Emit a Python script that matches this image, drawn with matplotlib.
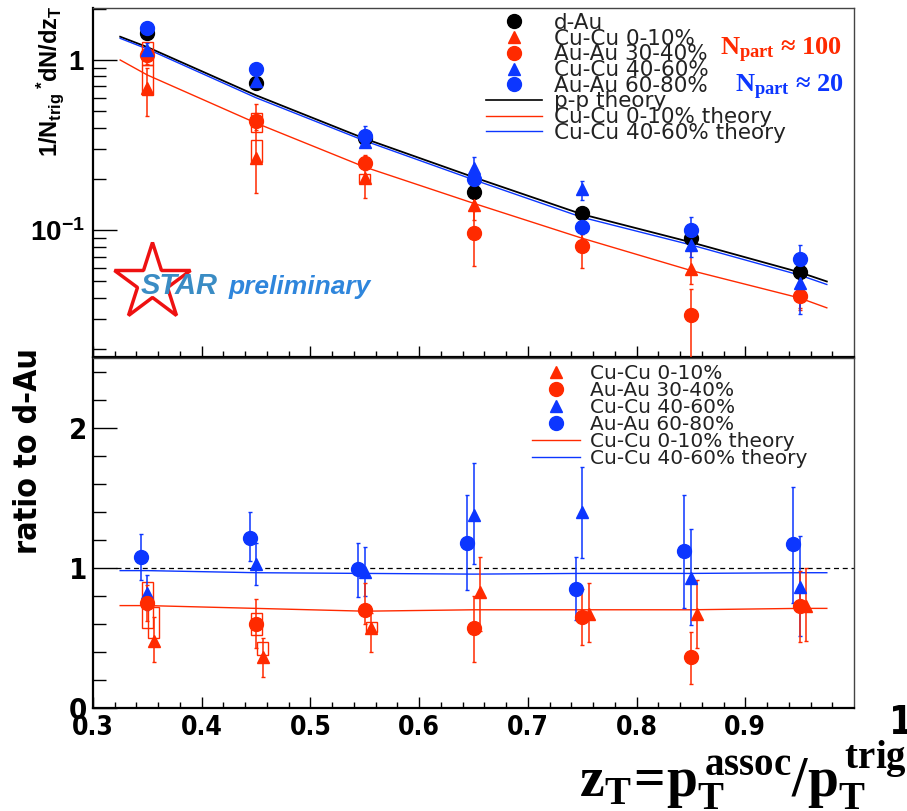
import numpy as np
import matplotlib
matplotlib.use('Agg')
import matplotlib.pyplot as plt
from matplotlib import font_manager
from matplotlib.lines import Line2D
from matplotlib.patches import Rectangle
from matplotlib.ticker import FixedLocator, FixedFormatter, NullFormatter

# pick a condensed sans for tick labels if one is installed
fl = font_manager.fontManager.ttflist
narrow, narrow_stretch = 'Liberation Sans', 'normal'
for f in fl:
    if f.name == 'Liberation Sans Narrow':
        narrow, narrow_stretch = 'Liberation Sans Narrow', 'normal'
        break
else:
    for f in fl:
        if f.name == 'DejaVu Sans' and f.stretch == 'condensed':
            narrow, narrow_stretch = 'DejaVu Sans', 'condensed'
            break

plt.rcParams['font.family'] = ['Liberation Sans', 'DejaVu Sans']
plt.rcParams['mathtext.fontset'] = 'custom'
plt.rcParams['mathtext.sf'] = 'Liberation Sans:bold'
plt.rcParams['mathtext.bf'] = 'Liberation Serif:bold'
plt.rcParams['mathtext.rm'] = 'Liberation Serif'

# ---- data ----
zt = np.array([0.35, 0.45, 0.55, 0.65, 0.75, 0.85, 0.95])

# top panel: 1/Ntrig dN/dzT
dau = np.array([1.44, 0.73, 0.35, 0.167, 0.126, 0.090, 0.057])
dau_lo = np.array([1.36, 0.68, 0.33, 0.155, 0.116, 0.083, 0.052])
dau_hi = np.array([1.52, 0.78, 0.37, 0.180, 0.136, 0.097, 0.062])

cucu_c = np.array([0.685, 0.265, 0.202, 0.14, 0.084, 0.059, 0.042])
cucu_c_lo = np.array([0.47, 0.165, 0.155, 0.115, 0.074, 0.048, 0.035])
cucu_c_hi = np.array([0.90, 0.55, 0.27, 0.17, 0.095, 0.075, 0.050])

auau_m = np.array([1.07, 0.438, 0.248, 0.096, 0.081, 0.0316, 0.041])
auau_m_lo = np.array([0.95, 0.39, 0.225, 0.062, 0.060, 0.010, 0.034])
auau_m_hi = np.array([1.20, 0.49, 0.275, 0.130, 0.100, 0.045, 0.050])

cucu_p = np.array([1.15, 0.75, 0.33, 0.232, 0.174, 0.082, 0.049])
cucu_p_lo = np.array([1.05, 0.70, 0.31, 0.200, 0.150, 0.070, 0.032])
cucu_p_hi = np.array([1.25, 0.80, 0.35, 0.270, 0.194, 0.095, 0.060])

auau_p = np.array([1.54, 0.885, 0.357, 0.20, 0.104, 0.100, 0.068])
auau_p_lo = np.array([1.44, 0.83, 0.33, 0.18, 0.095, 0.085, 0.058])
auau_p_hi = np.array([1.64, 0.94, 0.41, 0.22, 0.115, 0.120, 0.082])

# systematic boxes (red), top panel
sys_auau_lo = np.array([0.93, 0.38, np.nan, np.nan, np.nan, np.nan, np.nan])
sys_auau_hi = np.array([1.28, 0.49, np.nan, np.nan, np.nan, np.nan, np.nan])
sys_cucu_lo = np.array([0.62, 0.25, 0.19, np.nan, np.nan, np.nan, np.nan])
sys_cucu_hi = np.array([0.93, 0.34, 0.215, np.nan, np.nan, np.nan, np.nan])

# theory curves
th_z = np.array([0.325, 0.35, 0.45, 0.55, 0.65, 0.75, 0.85, 0.95, 0.975])
th_pp = np.array([1.37, 1.19, 0.62, 0.345, 0.205, 0.124, 0.085, 0.0566, 0.050])
th_cucu_c = np.array([1.0, 0.816, 0.426, 0.235, 0.144, 0.0897, 0.058, 0.040, 0.035])
th_cucu_p = np.array([1.34, 1.16, 0.60, 0.335, 0.198, 0.119, 0.082, 0.0545, 0.048])

# bottom panel: ratio to d-Au
r_cucu_c = np.array([0.48, 0.36, 0.57, 0.83, 0.67, 0.67, 0.73])
r_cucu_c_lo = np.array([0.33, 0.22, 0.40, 0.55, 0.47, 0.43, 0.48])
r_cucu_c_hi = np.array([0.65, 0.50, 0.68, 1.08, 0.89, 0.91, 1.00])

r_auau_m = np.array([0.75, 0.60, 0.70, 0.57, 0.65, 0.36, 0.73])
r_auau_m_lo = np.array([0.62, 0.43, 0.60, 0.33, 0.45, 0.17, 0.47])
r_auau_m_hi = np.array([0.88, 0.78, 0.89, 0.80, 0.85, 0.54, 0.98])

r_cucu_p = np.array([0.82, 1.03, 0.97, 1.38, 1.40, 0.93, 0.86])
r_cucu_p_lo = np.array([0.70, 0.88, 0.80, 1.03, 1.07, 0.59, 0.51])
r_cucu_p_hi = np.array([0.95, 1.18, 1.15, 1.75, 1.72, 1.28, 1.23])

r_auau_p = np.array([1.08, 1.21, 0.99, 1.18, 0.85, 1.12, 1.17])
r_auau_p_lo = np.array([0.91, 1.05, 0.79, 0.84, 0.63, 0.71, 0.75])
r_auau_p_hi = np.array([1.24, 1.40, 1.18, 1.52, 1.08, 1.52, 1.58])

r_sys_auau_lo = np.array([0.57, 0.52, np.nan, np.nan, np.nan, np.nan, np.nan])
r_sys_auau_hi = np.array([0.90, 0.68, np.nan, np.nan, np.nan, np.nan, np.nan])
r_sys_cucu_lo = np.array([0.50, 0.38, 0.54, np.nan, np.nan, np.nan, np.nan])
r_sys_cucu_hi = np.array([0.72, 0.47, 0.61, np.nan, np.nan, np.nan, np.nan])

th_r_cucu_c = np.array([0.73, 0.73, 0.71, 0.69, 0.70, 0.70, 0.70, 0.71, 0.71])
th_r_cucu_p = np.array([0.98, 0.98, 0.965, 0.96, 0.955, 0.96, 0.96, 0.965, 0.965])

RED = '#ff2a00'
BLUE = '#0c36ff'

W, H = 907, 811
fig = plt.figure(figsize=(W / 100, H / 100), dpi=100)
ax1 = fig.add_axes([93 / W, 1 - 357 / H, 761 / W, 349 / H])
ax2 = fig.add_axes([93 / W, 1 - 707.7 / H, 761 / W, 349.7 / H])


def points(ax, x, y, lo, hi, color, marker, ms):
    ax.errorbar(x, y, yerr=[y - lo, hi - y], fmt=marker, color=color, ms=ms,
                elinewidth=1.1, capsize=1.5, capthick=1, zorder=3)


def boxes(ax, x, lo, hi):
    for xi, l, h in zip(x, lo, hi):
        if np.isnan(l):
            continue
        ax.add_patch(Rectangle((xi - 0.005, l), 0.01, h - l, fill=False,
                               ec=RED, lw=1.0, zorder=2))


# ---- top panel ----
ax1.set_yscale('log')
ax1.plot(th_z, th_pp, color='black', lw=1.3, zorder=2)
ax1.plot(th_z, th_cucu_p, color=BLUE, lw=1.0, zorder=2)
ax1.plot(th_z, th_cucu_c, color=RED, lw=1.0, zorder=2)
boxes(ax1, zt, sys_auau_lo, sys_auau_hi)
boxes(ax1, zt, sys_cucu_lo, sys_cucu_hi)
points(ax1, zt, dau, dau_lo, dau_hi, 'black', 'o', 10)
points(ax1, zt, cucu_c, cucu_c_lo, cucu_c_hi, RED, '^', 9)
points(ax1, zt, auau_m, auau_m_lo, auau_m_hi, RED, 'o', 10)
points(ax1, zt, cucu_p, cucu_p_lo, cucu_p_hi, BLUE, '^', 9)
points(ax1, zt, auau_p, auau_p_lo, auau_p_hi, BLUE, 'o', 10)
ax1.set_xlim(0.3, 1.0)
ax1.set_ylim(0.018, 2.02)

# ---- bottom panel ----
ax2.axhline(1.0, xmin=0.03, xmax=1.0, color='black', lw=0.9, ls=(0, (4, 3)))
ax2.plot(th_z, th_r_cucu_c, color=RED, lw=1.0, zorder=2)
ax2.plot(th_z, th_r_cucu_p, color=BLUE, lw=1.0, zorder=2)
boxes(ax2, zt, r_sys_auau_lo, r_sys_auau_hi)
boxes(ax2, zt + 0.006, r_sys_cucu_lo, r_sys_cucu_hi)
points(ax2, zt - 0.006, r_auau_p, r_auau_p_lo, r_auau_p_hi, BLUE, 'o', 10)
points(ax2, zt, r_cucu_p, r_cucu_p_lo, r_cucu_p_hi, BLUE, '^', 9)
points(ax2, zt, r_auau_m, r_auau_m_lo, r_auau_m_hi, RED, 'o', 10)
points(ax2, zt + 0.006, r_cucu_c, r_cucu_c_lo, r_cucu_c_hi, RED, '^', 9)
ax2.set_xlim(0.3, 1.0)
ax2.set_ylim(0, 2.5)

# ---- axes styling ----
for ax in (ax1, ax2):
    for s in ('left', 'bottom'):
        ax.spines[s].set_linewidth(1.6)
    for s in ('top', 'right'):
        ax.spines[s].set_linewidth(1.0)
        ax.spines[s].set_color('#444444')
    ax.xaxis.set_major_locator(FixedLocator(np.arange(0.3, 0.95, 0.1)))
    ax.xaxis.set_minor_locator(FixedLocator(np.arange(0.32, 0.99, 0.02)))
    ax.tick_params(axis='x', which='major', direction='in', length=8, width=1, top=False)
    ax.tick_params(axis='x', which='minor', direction='in', length=4.5, width=1, top=False)
    ax.tick_params(axis='y', which='major', direction='in', length=17, width=1, right=False)
    ax.tick_params(axis='y', which='minor', direction='in', length=9, width=1, right=False)

ax1.xaxis.set_major_formatter(NullFormatter())
ax1.yaxis.set_major_locator(FixedLocator([0.1, 1.0]))
ax1.yaxis.set_major_formatter(FixedFormatter([r'$\mathsf{10^{-1}}$', r'$\mathsf{1}$']))
ax1.yaxis.set_minor_locator(FixedLocator([0.02, 0.03, 0.04, 0.05, 0.06, 0.07, 0.08, 0.09,
                                          0.2, 0.3, 0.4, 0.5, 0.6, 0.7, 0.8, 0.9, 2.0]))
ax1.yaxis.set_minor_formatter(NullFormatter())
ax1.tick_params(axis='y', which='major', labelsize=20, pad=6)

ax2.yaxis.set_major_locator(FixedLocator([0, 1, 2]))
ax2.yaxis.set_minor_locator(FixedLocator(np.arange(0.2, 2.45, 0.2)))
ax2.set_yticklabels(['0', '1', '2'], fontsize=21, fontweight='bold', family=narrow,
                    fontstretch=narrow_stretch)
ax2.set_xticklabels(['0.3', '0.4', '0.5', '0.6', '0.7', '0.8', '0.9'],
                    fontsize=19, fontweight='bold', family=narrow, fontstretch=narrow_stretch)
ax2.tick_params(axis='x', which='major', pad=5)
ax2.tick_params(axis='y', which='major', pad=4)

ax1.set_ylabel(r'$\mathsf{1/N_{trig}\,^{*}dN/dz_{T}}$', fontsize=17)
ax1.yaxis.set_label_coords(-0.036, 0.79)
ax2.set_ylabel('ratio to d-Au', fontsize=23, fontweight='bold', family=narrow,
               fontstretch=narrow_stretch)
ax2.yaxis.set_label_coords(-0.065, 0.735)

fig.text(889 / W, 1 - 723 / H, '1', fontsize=28, fontweight='bold', family=narrow,
         fontstretch=narrow_stretch, ha='left', va='center')
fig.text(579 / W, 1 - 797 / H, r'$\mathbf{z_T\!=\!p_T^{\,assoc}/p_T^{\,trig}}$',
         fontsize=40, ha='left', va='baseline')

# ---- legends ----
txtc = '#222222'
h1 = [Line2D([], [], ls='none', marker='o', color='black', ms=10),
      Line2D([], [], ls='none', marker='^', color=RED, ms=9),
      Line2D([], [], ls='none', marker='o', color=RED, ms=10),
      Line2D([], [], ls='none', marker='^', color=BLUE, ms=9),
      Line2D([], [], ls='none', marker='o', color=BLUE, ms=10),
      Line2D([], [], color='black', lw=1.2),
      Line2D([], [], color=RED, lw=1.0),
      Line2D([], [], color=BLUE, lw=1.0)]
l1 = ['d-Au', 'Cu-Cu 0-10%', 'Au-Au 30-40%', 'Cu-Cu 40-60%', 'Au-Au 60-80%',
      'p-p theory', 'Cu-Cu 0-10% theory', 'Cu-Cu 40-60% theory']
leg1 = ax1.legend(h1, l1, loc='upper left', bbox_to_anchor=(486 / W, 1 - 13 / H),
                  bbox_transform=fig.transFigure, frameon=False,
                  prop={'family': 'DejaVu Sans', 'size': 15.5},
                  labelspacing=-0.2, handlelength=2.6, handletextpad=0.55,
                  borderpad=0, borderaxespad=0, labelcolor=txtc)

h2 = h1[1:5] + h1[6:8]
l2 = l1[1:5] + l1[6:8]
leg2 = ax2.legend(h2, l2, loc='upper left', bbox_to_anchor=(532 / W, 1 - 364 / H),
                  bbox_transform=fig.transFigure, frameon=False,
                  prop={'family': 'DejaVu Sans', 'size': 14.5},
                  labelspacing=-0.1, handlelength=2.4, handletextpad=0.5,
                  borderpad=0, borderaxespad=0, labelcolor=txtc)

# N_part annotations
ax1.text(720 / W, 1 - 55 / H, r'$\mathbf{N_{part}}$' + ' \u2248 100', transform=fig.transFigure,
         color=RED, fontsize=19, fontweight='bold', family='Liberation Serif',
         ha='left', va='baseline')
ax1.text(735 / W, 1 - 92 / H, r'$\mathbf{N_{part}}$' + ' \u2248 20', transform=fig.transFigure,
         color=BLUE, fontsize=19, fontweight='bold', family='Liberation Serif',
         ha='left', va='baseline')

# STAR preliminary logo
ax1.plot([0.078], [0.215], transform=ax1.transAxes, marker='*', ms=58, mfc='none',
         mec='#ee1111', mew=2.5, clip_on=False)
ax1.text(0.062, 0.18, 'STAR', transform=ax1.transAxes, fontsize=21, fontweight='bold',
         style='italic', color='#3a8cc4', ha='left', va='baseline')
ax1.text(0.178, 0.18, 'preliminary', transform=ax1.transAxes, fontsize=19, fontweight='bold',
         style='italic', color='#2f86dc', ha='left', va='baseline')

fig.savefig('out.png', dpi=100)
